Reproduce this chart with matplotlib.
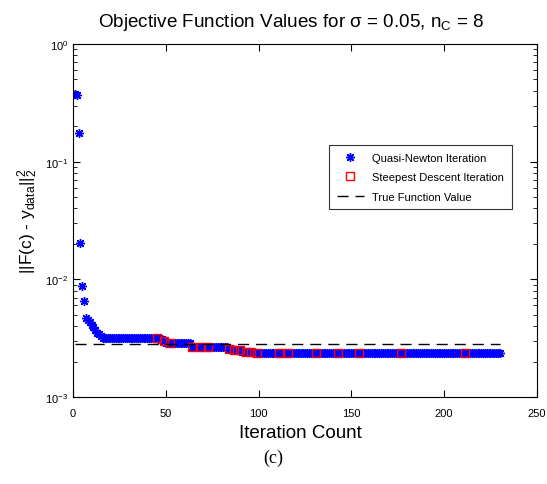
import numpy as np
import matplotlib
matplotlib.use("Agg")
import matplotlib.pyplot as plt

plt.rcParams['font.family'] = ['Liberation Sans', 'DejaVu Sans']
plt.rcParams['mathtext.fontset'] = 'custom'
plt.rcParams['mathtext.rm'] = 'Liberation Sans'
plt.rcParams['mathtext.it'] = 'Liberation Sans'
plt.rcParams['mathtext.default'] = 'regular'

# Quasi-Newton objective values, given as read levels and run lengths (iterations 1..230)
qn_levels = [0.375, 0.37, 0.174, 0.0204, 0.0088, 0.0066, 0.0047, 0.0045, 0.0043,
             0.0041, 0.0039, 0.0037, 0.0035, 0.0034, 0.0033, 0.0032, 0.00318,
             0.0031, 0.0030, 0.0029, 0.00285, 0.00268, 0.00258, 0.0025, 0.00242,
             0.00237]
qn_counts = [1, 1, 1, 1, 1, 1, 1, 1, 1,
             1, 1, 1, 1, 1, 1, 29, 1,
             3, 1, 2, 12, 20, 3, 4, 6,
             134]
qn_values = np.repeat(qn_levels, qn_counts)
qn_iters = np.arange(1, len(qn_values) + 1)

# Steepest descent iterations
sd_iters = [45, 49, 52, 64, 69, 73, 84, 87, 90, 93, 96, 99, 111, 116, 131, 143, 154, 177, 211]
sd_values = [0.00318, 0.0030, 0.00285, 0.00268, 0.00268, 0.00268, 0.00258, 0.0025, 0.0025,
             0.00242, 0.00242, 0.00237, 0.00237, 0.00237, 0.00237, 0.00237, 0.00237,
             0.00237, 0.00237]

true_x = [1, 230]
true_value = 0.0028

x_ticks = [0, 50, 100, 150, 200, 250]
y_ticks = [1e-3, 1e-2, 1e-1, 1e0]
y_ticklabels = [r'$10^{-3}$', r'$10^{-2}$', r'$10^{-1}$', r'$10^{0}$']

fig = plt.figure(figsize=(5.47, 4.85), dpi=100)
ax = fig.add_axes([0.1335, 0.1794, 0.848, 0.7278])

ax.plot(qn_iters, qn_values, linestyle='none', marker=(8, 2, 0), markersize=6.5,
        color='blue', markeredgewidth=1.0, label='Quasi-Newton Iteration')
ax.plot(sd_iters, sd_values, linestyle='none', marker='s', markersize=6,
        markerfacecolor='none', markeredgecolor='red', markeredgewidth=1.0,
        label='Steepest Descent Iteration')
ax.plot(true_x, [true_value, true_value], linestyle=(0, (8, 5)), color='black',
        linewidth=1.0, label='True Function Value')

ax.set_yscale('log')
ax.set_xlim(0, 250)
ax.set_ylim(1e-3, 1e0)
ax.set_xticks(x_ticks)
ax.set_xticklabels([str(v) for v in x_ticks], fontsize=8)
ax.set_yticks(y_ticks)
ax.set_yticklabels(y_ticklabels, fontsize=8)
ax.tick_params(which='both', direction='in', top=True, right=True)
ax.tick_params(which='major', length=5)
ax.tick_params(which='minor', length=3)
ax.tick_params(axis='x', pad=8)

ax.set_title(r'Objective Function Values for $\sigma$ = 0.05, n$_C$ = 8', fontsize=13.6,
             pad=13, x=0.47)
ax.set_xlabel('Iteration Count', fontsize=13.5, labelpad=4, x=0.49)
ax.set_ylabel(r'||F(c) - y$_{data}$||$_2^2$', fontsize=12.5)

leg = ax.legend(loc='upper left', bbox_to_anchor=(0.54, 0.73), fontsize=8,
                frameon=True, fancybox=False, edgecolor='black', borderpad=0.7,
                handlelength=2.4, labelspacing=0.85)
leg.get_frame().set_linewidth(0.8)

fig.text(0.5, 0.055, '(c)', ha='center', va='center', fontsize=13,
         family='Liberation Serif')

fig.savefig('out.png', dpi=100)
